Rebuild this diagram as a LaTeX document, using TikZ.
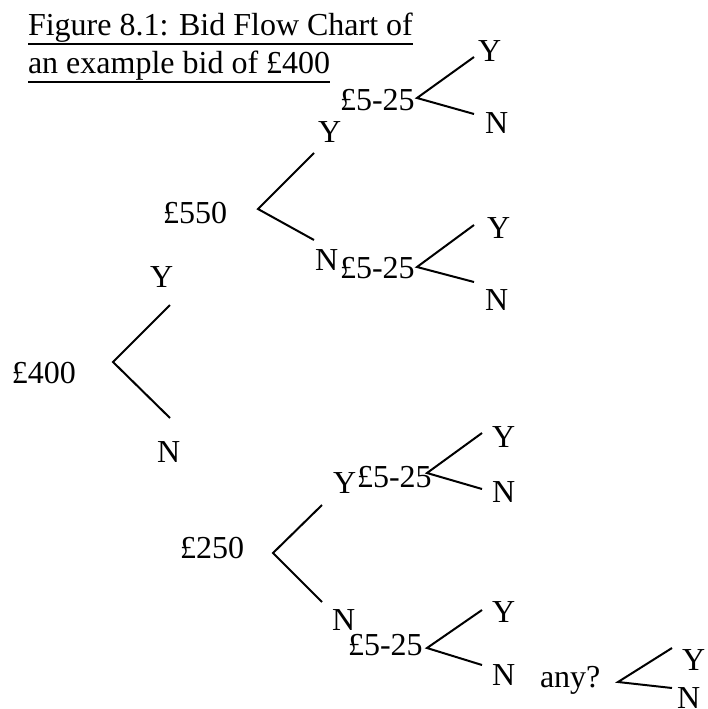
\documentclass[tikz,border=0pt]{standalone}
\usepackage{fontspec}
\setmainfont{Liberation Serif}
\begin{document}
\begin{tikzpicture}[x=1pt,y=-1pt,
  lbl/.style={anchor=base west,inner sep=0pt,outer sep=0pt,font=\fontsize{32}{37}\selectfont},
  branch/.style={line width=2pt,line join=miter},
  uline/.style={line width=2pt}]
\useasboundingbox (0,0) rectangle (708,709);
% caption
\node[lbl] (cap1) at (28,36) {Figure 8.1: Bid Flow Chart of};
\node[lbl] (cap2) at (28,74) {an example bid of £400};
\draw[uline] ([yshift=-1pt]cap1.south west) -- ([yshift=-1pt]cap1.south east);
\draw[uline] ([yshift=-1pt]cap2.south west) -- ([yshift=-1pt]cap2.south east);
% labels
\node[lbl] (b400) at (12,383) {£400};
\node[lbl] (y400) at (150,287) {Y};
\node[lbl] (n400) at (157,462) {N};
\node[lbl] (b550) at (163,223) {£550};
\node[lbl] (y550) at (318,142) {Y};
\node[lbl] (n550) at (315,270) {N};
\node[lbl] (ba) at (340,110) {£5-25};
\node[lbl] (ya) at (478,62) {Y};
\node[lbl] (na) at (485,133) {N};
\node[lbl] (bb) at (340,278) {£5-25};
\node[lbl] (yb) at (487,238) {Y};
\node[lbl] (nb) at (485,310) {N};
\node[lbl] (b250) at (180,558) {£250};
\node[lbl] (y250) at (333,493) {Y};
\node[lbl] (n250) at (332,630) {N};
\node[lbl] (bc) at (357,487) {£5-25};
\node[lbl] (yc) at (492,447) {Y};
\node[lbl] (nc) at (492,502) {N};
\node[lbl] (bd) at (348,655) {£5-25};
\node[lbl] (yd) at (492,622) {Y};
\node[lbl] (nd) at (492,685) {N};
\node[lbl] (any) at (540,687) {any?};
\node[lbl] (ye) at (682,670) {Y};
\node[lbl] (ne) at (677,708) {N};
% branch points
\coordinate (v400) at (113,362); \coordinate (u400) at (170,305); \coordinate (l400) at (170,418);
\coordinate (v550) at (258,209); \coordinate (u550) at (314,153); \coordinate (l550) at (314,240);
\coordinate (va) at (417,98);  \coordinate (ua) at (474,57);  \coordinate (la) at (474,114);
\coordinate (vb) at (417,267); \coordinate (ub) at (474,225); \coordinate (lb) at (474,282);
\coordinate (v250) at (273,553); \coordinate (u250) at (322,505); \coordinate (l250) at (322,602);
\coordinate (vc) at (427,473); \coordinate (uc) at (482,433); \coordinate (lc) at (482,489);
\coordinate (vd) at (427,648); \coordinate (ud) at (482,610); \coordinate (ld) at (482,665);
\coordinate (ve) at (618,682); \coordinate (ue) at (672,648); \coordinate (le) at (672,688);
\foreach \k in {400,550,a,b,250,c,d,e}{
  \draw[branch] (u\k) -- (v\k) -- (l\k);
}
\end{tikzpicture}
\end{document}
